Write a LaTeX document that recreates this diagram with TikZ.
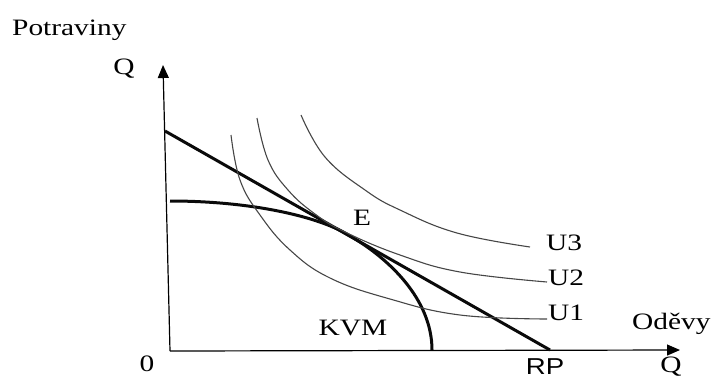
\documentclass[tikz,border=0pt]{standalone}
\usepackage{fontspec}
\setmainfont[FakeStretch=1.25]{Liberation Serif}
\newfontfamily\rpfont[FakeStretch=1.2]{Liberation Sans}
\usetikzlibrary{arrows.meta}
\definecolor{kvmblack}{RGB}{10,10,10}
\definecolor{ucurvegray}{RGB}{70,70,70}

\begin{document}
\begin{tikzpicture}[
    x=1pt, y=-1pt,
    font=\fontsize{23.5}{27}\selectfont,
    lbl/.style={inner sep=0pt},
    axis/.style={line width=1.2pt, -{Triangle[length=13pt,width=11pt]}},
    heavy/.style={line width=3pt, draw=kvmblack},
    indiff/.style={line width=1.1pt, draw=ucurvegray}
  ]
    \useasboundingbox (0,0) rectangle (714,378);

    \coordinate (O) at (170,351);
    \coordinate (ytip) at (163,65);
    \coordinate (xtip) at (680,350);

    \draw[axis] (O) -- (ytip);
    \draw[axis] (O) -- (xtip);

    % budget line
    \coordinate (top) at (165,131);
    \coordinate (rpend) at (550,350);
    \draw[heavy] (top) -- (rpend);

    % production frontier
    \coordinate (E) at (345,233);
    \draw[heavy] (170,201) .. controls (250,201) and (315,216) .. (E)
      .. controls (390,258) and (432,300) .. (432,350);

    % indifference curves
    \draw[indiff] plot[smooth, tension=0.7] coordinates {(231,135) (240,180) (260,215) (290,250) (330,278) (390,299) (460,315) (547,319)};
    \draw[indiff] plot[smooth, tension=0.7] coordinates {(257,118) (268,160) (288,190) (315,214) (345,232) (400,255) (460,272) (547,282)};
    \draw[indiff] plot[smooth, tension=0.7] coordinates {(301,115) (325,157) (365,190) (400,210) (457,233) (530,247)};

    \node[lbl, anchor=base west] (pot) at (12,35) {Potraviny};
    \node[lbl, anchor=base] (qy) at (124,74) {Q};
    \node[lbl, anchor=base] (zero) at (147,371) {0};
    \node[lbl, anchor=base] (e) at (362,225) {E};
    \node[lbl, anchor=base west] (u3) at (546,250) {U3};
    \node[lbl, anchor=base west] (u2) at (548,285) {U2};
    \node[lbl, anchor=base west] (u1) at (548,320) {U1};
    \node[lbl, anchor=base] (kvm) at (353,335) {KVM};
    \node[lbl, anchor=base west] (odevy) at (632,329) {Oděvy};
    \node[lbl, anchor=base, font=\fontsize{23}{27}\rpfont] (rp) at (545,374) {RP};
    \node[lbl, anchor=base] (qx) at (671,372) {Q};
  \end{tikzpicture}
\end{document}
